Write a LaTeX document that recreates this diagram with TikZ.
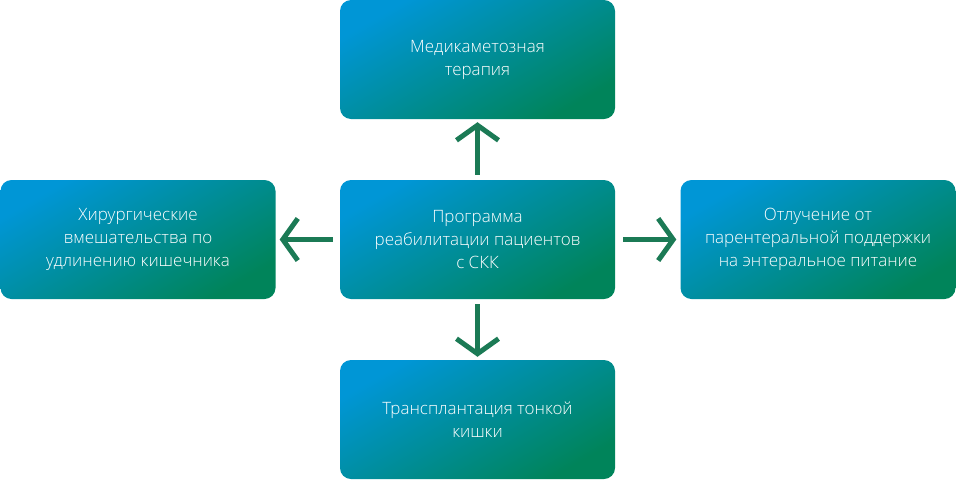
\documentclass[tikz,border=0pt]{standalone}
\usepackage{fontspec}
\setmainfont{Open Sans Light}
\usetikzlibrary{arrows.meta}
\definecolor{cblue}{HTML}{0096D6}
\definecolor{cgreen}{HTML}{00845A}
\definecolor{carr}{HTML}{1B7A55}
\begin{document}
\begin{tikzpicture}[x=1pt,y=-1pt,
 box/.style={rounded corners=11pt,minimum width=275pt,minimum height=119pt,
   left color=cblue,right color=cgreen,shading angle=30,draw=none,
   text=white,align=center,font=\fontsize{17}{23}\selectfont,inner sep=0pt},
 arr/.style={draw=carr,line width=5pt,-{Straight Barb[length=15pt,width=42pt]}}]
\useasboundingbox (0,0) rectangle (956,480);
\node[box] (top) at (477.5,59.5) {Медикаметозная\\терапия};
\node[box] (mid) at (477.5,239.5) {Программа\\реабилитации пациентов\\с СКК};
\node[box] (lft) at (138,239.5) {Хирургические\\вмешательства по\\удлинению кишечника};
\node[box] (rgt) at (818,239.5) {Отлучение от\\парентеральной поддержки\\на энтеральное питание};
\node[box] (bot) at (477.5,419.5) {Трансплантация тонкой\\кишки};
\draw[arr] (mid.north)++(0,-5) -- ([yshift=-3pt]top.south);
\draw[arr] (mid.south)++(0,5) -- ([yshift=3pt]bot.north);
\draw[arr] (mid.west)++(-7,0) -- ([xshift=4pt]lft.east);
\draw[arr] (mid.east)++(8,0) -- ([xshift=-4pt]rgt.west);
\end{tikzpicture}
\end{document}
